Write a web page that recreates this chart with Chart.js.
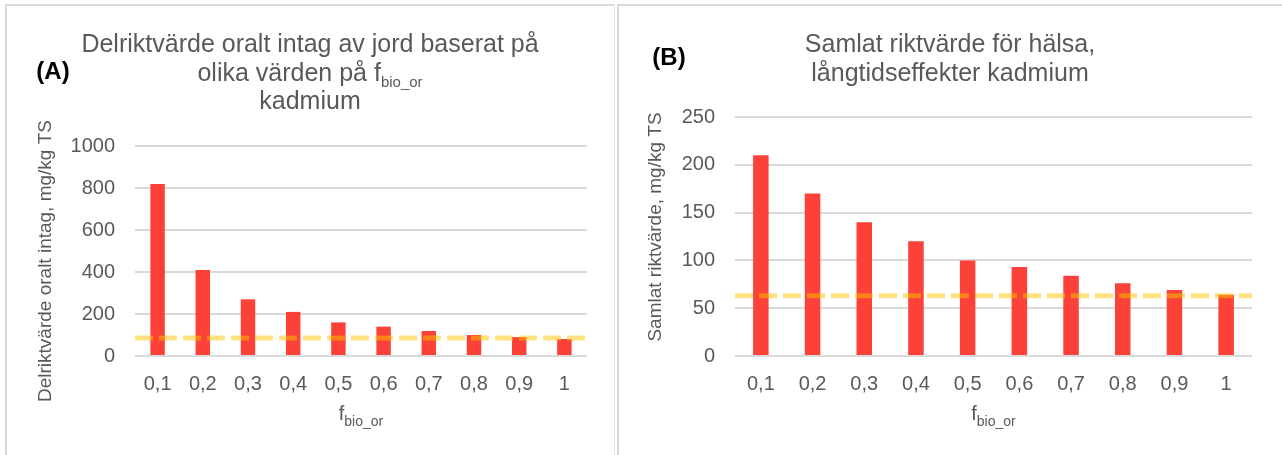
<!DOCTYPE html>
<html lang="sv">
<head>
<meta charset="utf-8">
<title>Kadmium – riktvärden för olika f_bio_or</title>
<script src="https://cdn.jsdelivr.net/npm/chart.js@4.4.1/dist/chart.umd.min.js"></script>
<style>
  html, body { margin: 0; padding: 0; background: #fff; }
  body { width: 1282px; height: 455px; position: relative; overflow: hidden; }
  .frame { position: absolute; box-sizing: border-box; border-top: 2px solid #d9d9d9; border-left: 2px solid #d9d9d9; }
  #frameA { left: 5px; top: 4px; width: 610px; height: 470px; border-right: 1px solid #e2e2e2; }
  #frameB { left: 617px; top: 4px; width: 680px; height: 470px; }
  canvas { position: absolute; top: 0; }
  #chartA { left: 0; }
  #chartB { left: 616px; }
</style>
</head>
<body>
<div class="frame" id="frameA"></div>
<div class="frame" id="frameB"></div>
<canvas id="chartA" width="616" height="455"></canvas>
<canvas id="chartB" width="666" height="455"></canvas>

<script>
// f_bio_or categories (x axis tick labels)
const fBioOr = ['0,1', '0,2', '0,3', '0,4', '0,5', '0,6', '0,7', '0,8', '0,9', '1'];

// (A) Delriktvärde oralt intag av jord, mg/kg TS
const delriktvardeOraltIntag = [819, 410, 270, 210, 160, 140, 119, 100, 90, 81];
// (B) Samlat riktvärde för hälsa, långtidseffekter, mg/kg TS
const samlatRiktvarde = [210, 170, 140, 120, 100, 93, 84, 76, 69, 64];

// Horizontal comparison levels (dashed lines)
const jamforelseA = [86];
const jamforelseB = [63];

// Y axis ranges: min, max, step
const yAxisA = [0, 1000, 200];
const yAxisB = [0, 250, 50];

// Texts
const titleA = [
  [{ t: 'Delriktvärde oralt intag av jord baserat på' }],
  [{ t: 'olika värden på f' }, { t: 'bio_or', sub: true }],
  [{ t: 'kadmium' }]
];
const titleB = [
  [{ t: 'Samlat riktvärde för hälsa,' }],
  [{ t: 'långtidseffekter kadmium' }]
];
const yTitleA = 'Delriktvärde oralt intag, mg/kg TS';
const yTitleB = 'Samlat riktvärde, mg/kg TS';
const xTitle = [{ t: 'f' }, { t: 'bio_or', sub: true }];

const FAMILY = '"Liberation Sans", Arial, Helvetica, sans-serif';
const TEXT = '#595959';
const GRID = '#d9d9d9';
const BAR = '#fc4139';
const DASH = 'rgba(255, 196, 0, 0.5)';

// Draws a line of text made of normal and subscript segments, centred on cx
function drawRich(ctx, segs, cx, baseline, size, subSize, subDrop) {
  let total = 0;
  const parts = segs.map(s => {
    const font = (s.sub ? subSize : size) + 'px ' + FAMILY;
    ctx.font = font;
    const w = ctx.measureText(s.t).width;
    total += w;
    return { font, w, t: s.t, sub: !!s.sub };
  });
  let x = cx - total / 2;
  ctx.fillStyle = TEXT;
  ctx.textAlign = 'left';
  ctx.textBaseline = 'alphabetic';
  parts.forEach(p => {
    ctx.font = p.font;
    ctx.fillText(p.t, x, baseline + (p.sub ? subDrop : 0));
    x += p.w;
  });
}

// Panel title, panel letter, rotated y title and subscripted x title
const panelText = {
  id: 'panelText',
  afterDraw(chart, args, o) {
    const ctx = chart.ctx;
    const area = chart.chartArea;
    ctx.save();
    o.title.forEach((line, i) => drawRich(ctx, line, o.titleX, o.titleBase[i], 25, 15, 6));

    ctx.font = 'bold 24px ' + FAMILY;
    ctx.fillStyle = '#000';
    ctx.textAlign = 'center';
    ctx.textBaseline = 'middle';
    ctx.fillText(o.letter, o.letterX, o.letterY);

    ctx.save();
    ctx.translate(o.yTitleX, o.yTitleY);
    ctx.rotate(-Math.PI / 2);
    ctx.font = '19px ' + FAMILY;
    ctx.fillStyle = TEXT;
    ctx.textAlign = 'center';
    ctx.textBaseline = 'middle';
    ctx.fillText(o.yTitle, 0, 0);
    ctx.restore();

    drawRich(ctx, xTitle, (area.left + area.right) / 2, o.xTitleBase, 20, 14, 6);
    ctx.restore();
  }
};

function makeChart(id, values, level, axis, barPct, yWidth, padRight, padTop, text) {
  return new Chart(document.getElementById(id), {
    type: 'bar',
    data: {
      labels: fBioOr,
      datasets: [
        {
          type: 'line',
          data: [level[0], level[0]],
          xAxisID: 'xr',
          borderColor: DASH,
          borderWidth: 5,
          borderDash: [18, 6],
          borderCapStyle: 'butt',
          pointRadius: 0,
          fill: false,
          order: 0
        },
        {
          type: 'bar',
          data: values,
          xAxisID: 'x',
          backgroundColor: BAR,
          categoryPercentage: 1,
          barPercentage: barPct,
          grouped: false,
          order: 1
        }
      ]
    },
    options: {
      responsive: false,
      animation: false,
      layout: { padding: { left: 0, right: padRight, top: padTop, bottom: 0 } },
      plugins: {
        legend: { display: false },
        tooltip: { enabled: false },
        panelText: text
      },
      scales: {
        x: {
          grid: { display: false },
          border: { display: false },
          ticks: { color: TEXT, font: { family: FAMILY, size: 20 }, padding: 8, maxRotation: 0 },
          afterFit(s) { s.height = 99; }
        },
        xr: {
          type: 'category',
          labels: ['start', 'slut'],
          offset: false,
          display: false
        },
        y: {
          min: axis[0],
          max: axis[1],
          ticks: {
            stepSize: axis[2],
            color: TEXT,
            font: { family: FAMILY, size: 20 },
            padding: 20,
            callback: v => String(v)
          },
          grid: { color: GRID, lineWidth: 2, drawTicks: false },
          border: { display: false },
          afterFit(s) { s.width = yWidth; }
        }
      }
    },
    plugins: [panelText]
  });
}

makeChart('chartA', delriktvardeOraltIntag, jamforelseA, yAxisA, 0.32, 135, 29, 146, {
  title: titleA, titleX: 310, titleBase: [52, 81, 109],
  letter: '(A)', letterX: 53, letterY: 72,
  yTitle: yTitleA, yTitleX: 46, yTitleY: 261,
  xTitleBase: 420
});

makeChart('chartB', samlatRiktvarde, jamforelseB, yAxisB, 0.30, 119, 30, 117, {
  title: titleB, titleX: 334, titleBase: [52, 81],
  letter: '(B)', letterX: 53, letterY: 58,
  yTitle: yTitleB, yTitleX: 40, yTitleY: 227,
  xTitleBase: 420
});
</script>
</body>
</html>
